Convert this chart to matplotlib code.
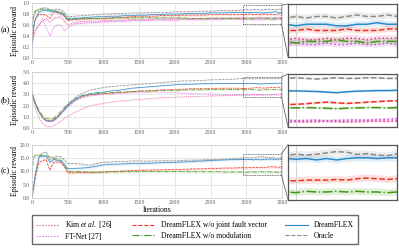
import numpy as np
import matplotlib
matplotlib.use('Agg')
import matplotlib.pyplot as plt
from matplotlib.patches import Rectangle, ConnectionPatch
from matplotlib.lines import Line2D

plt.rcParams['font.family'] = ['Liberation Serif', 'DejaVu Serif']
plt.rcParams['mathtext.fontset'] = 'custom'
plt.rcParams['mathtext.rm'] = 'Liberation Serif'
plt.rcParams['mathtext.it'] = 'Liberation Serif:italic'

# iteration grid the values were read on
iters = [0, 25, 50, 100, 150, 200, 250, 300, 350, 400, 450, 500,
         600, 700, 800, 900, 1000, 1100, 1200, 1300, 1400, 1500, 1600, 1700,
         1800, 1900, 2000, 2100, 2200, 2300, 2400, 2500, 2600, 2700, 2800, 2900,
         2950, 3000, 3050, 3100, 3150, 3200, 3250, 3300, 3350, 3400, 3450, 3500]

# panel (a)
oracle_a = [0.55, 0.75, 0.84, 0.89, 0.91, 0.91, 0.88, 0.88, 0.89, 0.88, 0.84, 0.75,
            0.76, 0.77, 0.78, 0.79, 0.80, 0.80, 0.81, 0.81, 0.82, 0.82, 0.82, 0.83,
            0.83, 0.83, 0.84, 0.84, 0.84, 0.85, 0.85, 0.85, 0.86, 0.86, 0.86, 0.87,
            0.87, 0.88, 0.87, 0.88, 0.88, 0.87, 0.88, 0.89, 0.88, 0.88, 0.89, 0.88]
dreamflex_a = [0.20, 0.55, 0.72, 0.84, 0.86, 0.87, 0.85, 0.85, 0.84, 0.82, 0.78, 0.70,
               0.72, 0.73, 0.74, 0.75, 0.75, 0.76, 0.76, 0.77, 0.77, 0.78, 0.78, 0.79,
               0.79, 0.80, 0.80, 0.80, 0.81, 0.81, 0.81, 0.82, 0.82, 0.82, 0.83, 0.83,
               0.83, 0.82, 0.83, 0.83, 0.83, 0.82, 0.82, 0.83, 0.83, 0.84, 0.83, 0.83]
nojoint_a = [0.30, 0.60, 0.72, 0.80, 0.79, 0.78, 0.72, 0.84, 0.83, 0.80, 0.76, 0.68,
             0.70, 0.71, 0.71, 0.72, 0.72, 0.73, 0.74, 0.74, 0.75, 0.76, 0.76, 0.76,
             0.77, 0.77, 0.77, 0.78, 0.78, 0.78, 0.78, 0.79, 0.79, 0.79, 0.79, 0.79,
             0.79, 0.79, 0.80, 0.79, 0.79, 0.79, 0.80, 0.79, 0.79, 0.79, 0.80, 0.80]
nomod_a = [0.55, 0.80, 0.86, 0.88, 0.89, 0.89, 0.87, 0.86, 0.85, 0.84, 0.80, 0.72,
           0.72, 0.72, 0.72, 0.72, 0.72, 0.72, 0.73, 0.73, 0.73, 0.73, 0.73, 0.73,
           0.73, 0.73, 0.73, 0.73, 0.72, 0.72, 0.72, 0.72, 0.72, 0.72, 0.72, 0.72,
           0.72, 0.71, 0.72, 0.72, 0.72, 0.73, 0.72, 0.72, 0.71, 0.72, 0.72, 0.72]
kim_a = [0.20, 0.40, 0.50, 0.62, 0.68, 0.72, 0.65, 0.72, 0.74, 0.75, 0.68, 0.60,
         0.65, 0.66, 0.67, 0.67, 0.68, 0.68, 0.69, 0.69, 0.70, 0.70, 0.70, 0.71,
         0.71, 0.71, 0.71, 0.72, 0.72, 0.72, 0.72, 0.73, 0.73, 0.73, 0.73, 0.73,
         0.73, 0.74, 0.73, 0.73, 0.74, 0.73, 0.74, 0.74, 0.73, 0.74, 0.74, 0.74]
ftnet_a = [0.20, 0.45, 0.52, 0.60, 0.72, 0.55, 0.40, 0.55, 0.60, 0.60, 0.50, 0.56,
           0.62, 0.63, 0.64, 0.65, 0.66, 0.66, 0.67, 0.67, 0.68, 0.68, 0.68, 0.69,
           0.69, 0.69, 0.69, 0.70, 0.70, 0.70, 0.70, 0.70, 0.70, 0.71, 0.71, 0.71,
           0.70, 0.71, 0.70, 0.70, 0.71, 0.70, 0.70, 0.71, 0.70, 0.70, 0.71, 0.70]

# panel (b)
oracle_b = [3.2, 2.6, 2.1, 1.4, 0.9, 0.65, 0.6, 0.7, 0.95, 1.3, 1.7, 2.1,
            2.7, 3.1, 3.35, 3.5, 3.6, 3.7, 3.75, 3.8, 3.85, 3.9, 3.95, 4.0,
            4.05, 4.1, 4.15, 4.2, 4.2, 4.25, 4.25, 4.3, 4.3, 4.35, 4.35, 4.4,
            4.4, 4.42, 4.4, 4.38, 4.4, 4.42, 4.4, 4.4, 4.42, 4.42, 4.4, 4.4]
dreamflex_b = [3.2, 2.6, 2.1, 1.4, 0.9, 0.65, 0.6, 0.65, 0.9, 1.25, 1.6, 1.95,
               2.5, 2.85, 3.05, 3.15, 3.2, 3.3, 3.35, 3.45, 3.55, 3.6, 3.65, 3.7,
               3.75, 3.8, 3.85, 3.9, 3.9, 3.92, 3.95, 3.95, 3.96, 3.97, 3.98, 3.98,
               3.98, 3.98, 3.97, 3.96, 3.94, 3.92, 3.95, 3.97, 3.98, 3.99, 3.99, 4.0]
nojoint_b = [3.2, 2.6, 2.1, 1.4, 0.95, 0.7, 0.65, 0.75, 1.0, 1.3, 1.65, 2.0,
             2.5, 2.8, 2.95, 3.0, 3.05, 3.1, 3.15, 3.2, 3.25, 3.3, 3.3, 3.35,
             3.4, 3.4, 3.45, 3.45, 3.5, 3.5, 3.5, 3.52, 3.55, 3.55, 3.55, 3.55,
             3.52, 3.53, 3.55, 3.58, 3.6, 3.58, 3.56, 3.58, 3.6, 3.62, 3.64, 3.65]
nomod_b = [3.2, 2.7, 2.2, 1.6, 1.1, 0.85, 0.8, 0.85, 1.1, 1.45, 1.8, 2.15,
           2.6, 2.9, 3.0, 3.05, 3.1, 3.15, 3.2, 3.2, 3.25, 3.3, 3.3, 3.3,
           3.35, 3.35, 3.35, 3.38, 3.4, 3.4, 3.4, 3.42, 3.42, 3.42, 3.42, 3.42,
           3.42, 3.41, 3.42, 3.41, 3.4, 3.38, 3.4, 3.41, 3.42, 3.42, 3.41, 3.42]
kim_b = [3.2, 2.4, 1.7, 0.9, 0.4, 0.15, 0.1, 0.2, 0.4, 0.6, 0.85, 1.05,
         1.4, 1.7, 1.95, 2.1, 2.2, 2.3, 2.4, 2.45, 2.5, 2.55, 2.6, 2.65,
         2.7, 2.72, 2.75, 2.78, 2.8, 2.82, 2.84, 2.86, 2.88, 2.9, 2.92, 2.93,
         2.94, 2.95, 2.94, 2.95, 2.96, 2.95, 2.94, 2.95, 2.96, 2.97, 2.96, 2.97]
ftnet_b = [3.2, 2.6, 2.1, 1.4, 0.9, 0.6, 0.55, 0.6, 0.85, 1.2, 1.55, 1.85,
           2.4, 2.7, 2.85, 2.95, 3.0, 3.05, 3.1, 3.12, 3.15, 3.18, 3.2, 3.2,
           3.2, 3.18, 3.15, 3.12, 3.1, 3.08, 3.05, 3.05, 3.02, 3.0, 3.0, 3.0,
           3.0, 2.98, 2.99, 3.0, 2.98, 2.99, 3.0, 3.01, 3.0, 3.02, 3.03, 3.05]

# panel (c)
oracle_c = [0.0, 5.0, 10.0, 16.0, 17.0, 17.5, 14.5, 15.5, 15.8, 15.5, 14.5, 13.0,
            13.0, 12.8, 12.3, 13.0, 13.5, 13.6, 13.8, 13.8, 14.0, 14.0, 13.9, 14.0,
            14.0, 14.1, 14.0, 14.2, 14.3, 14.3, 14.4, 14.5, 14.6, 14.7, 14.8, 15.0,
            15.1, 15.2, 15.1, 15.2, 15.4, 15.6, 15.5, 15.2, 15.3, 15.1, 15.0, 15.3]
dreamflex_c = [0.0, 4.5, 9.0, 15.5, 15.8, 15.8, 13.5, 14.5, 14.3, 14.0, 13.0, 11.0,
               11.2, 11.3, 11.5, 12.0, 12.5, 12.7, 12.8, 12.9, 13.0, 13.0, 13.1, 13.2,
               13.3, 13.4, 13.5, 13.6, 13.7, 13.9, 14.0, 14.2, 14.3, 14.4, 14.5, 14.6,
               14.6, 14.5, 14.6, 14.4, 14.6, 14.4, 14.6, 14.7, 14.7, 14.6, 14.7, 14.7]
nojoint_c = [0.0, 4.0, 8.0, 13.5, 14.2, 14.5, 10.5, 13.5, 13.6, 13.5, 12.0, 9.5,
             9.5, 9.6, 9.6, 9.7, 9.8, 10.0, 10.1, 10.2, 10.3, 10.5, 10.5, 10.6,
             10.6, 10.7, 10.8, 10.8, 10.9, 11.0, 11.0, 11.2, 11.2, 11.3, 11.3, 11.4,
             11.4, 11.4, 11.5, 11.5, 11.5, 11.6, 11.5, 11.7, 11.8, 11.7, 11.6, 11.7]
nomod_c = [9.5, 15.5, 16.2, 16.2, 16.2, 16.0, 15.5, 15.0, 14.8, 14.5, 12.5, 10.0,
           10.0, 9.9, 9.8, 9.8, 9.8, 9.9, 9.9, 10.0, 10.0, 10.0, 10.0, 10.0,
           10.0, 10.0, 10.0, 10.0, 9.9, 9.9, 9.9, 9.9, 9.9, 9.8, 9.8, 9.8,
           9.8, 9.7, 9.9, 9.8, 9.8, 9.9, 9.8, 9.9, 9.8, 9.8, 9.7, 9.8]

labels = ['Kim $et$ $al.$ [26]', 'FT-Net [27]', 'DreamFLEX w/o joint fault vector',
          'DreamFLEX w/o modulation', 'DreamFLEX', 'Oracle']
colors = ['#e8308a', '#d24ee0', '#ee3322', '#3f9a10', '#2b88cc', '#8c8c8c']
styles = [':', ':', '--', '-.', '-', '--']

panels = [
    dict(tag='(a)', series=[kim_a, ftnet_a, nojoint_a, nomod_a, dreamflex_a, oracle_a],
         ylim=(0, 1.0), yticks=np.arange(0, 1.01, 0.2),
         zoom=(0.62, 0.96), band=0.02),
    dict(tag='(b)', series=[kim_b, ftnet_b, nojoint_b, nomod_b, dreamflex_b, oracle_b],
         ylim=(0, 5.0), yticks=np.arange(0, 5.01, 1.0),
         zoom=(2.77, 4.55), band=0.04),
    dict(tag='(c)', series=[None, None, nojoint_c, nomod_c, dreamflex_c, oracle_c],
         ylim=(0, 20.0), yticks=np.arange(0, 20.01, 5.0),
         zoom=(8.7, 16.6), band=0.5),
]

main_boxes = [(0.080, 0.766, 0.627, 0.222),
              (0.080, 0.484, 0.627, 0.226),
              (0.080, 0.202, 0.627, 0.213)]
inset_boxes = [(0.722, 0.770, 0.274, 0.214),
               (0.722, 0.488, 0.274, 0.214),
               (0.722, 0.195, 0.274, 0.222)]
zoom_x = (2960, 3490)

fig = plt.figure(figsize=(3.99, 2.48), dpi=100)
x = np.array(iters)

for k, p in enumerate(panels):
    ax = fig.add_axes(main_boxes[k])
    axi = fig.add_axes(inset_boxes[k])
    for i, s in enumerate(p['series']):
        if s is None:
            continue
        y = np.array(s)
        ax.plot(x, y, color=colors[i], ls=styles[i], lw=0.5)
        ax.fill_between(x, y - p['band'], y + p['band'], color=colors[i], alpha=0.12, lw=0)
        axi.plot(x, y, color=colors[i], ls=styles[i], lw=1.1)
        axi.fill_between(x, y - p['band'], y + p['band'], color=colors[i], alpha=0.15, lw=0)

    ax.set_xlim(0, 3500)
    ax.set_ylim(*p['ylim'])
    ax.set_xticks(np.arange(0, 3501, 500))
    ax.set_yticks(p['yticks'])
    ax.yaxis.set_major_formatter(matplotlib.ticker.FormatStrFormatter('%.1f'))
    ax.tick_params(labelsize=4, length=0, pad=1.5, colors='#555555')
    ax.grid(True, color='#dddddd', lw=0.5)
    for sp in ax.spines.values():
        sp.set_color('#cccccc')
        sp.set_linewidth(0.5)
    ax.set_ylabel('Episodic reward', fontsize=5.5)
    ax.yaxis.set_label_coords(-0.052, 0.5)
    bx = main_boxes[k]
    fig.text(0.014, bx[1] + bx[3] / 2, p['tag'], fontsize=6, ha='center', va='center')

    axi.set_xlim(*zoom_x)
    axi.set_ylim(*p['zoom'])
    axi.set_xticks(np.arange(3000, 3501, 500))
    axi.set_yticks([])
    axi.tick_params(labelbottom=False, labelleft=False, length=0)
    axi.grid(True, color='#cccccc', lw=0.6)
    for sp in axi.spines.values():
        sp.set_color('#555555')
        sp.set_linewidth(0.9)

    z0, z1 = p['zoom']
    ax.add_patch(Rectangle((zoom_x[0], z0), zoom_x[1] - zoom_x[0], z1 - z0,
                           fill=False, ls=(0, (1, 1)), lw=0.6, ec='#444444', zorder=5))
    for yy, corner in [(z1, (0, 1)), (z0, (0, 0))]:
        con = ConnectionPatch(xyA=(zoom_x[1], yy), coordsA=ax.transData,
                              xyB=corner, coordsB=axi.transAxes,
                              color='#666666', lw=0.6)
        fig.add_artist(con)

ax.set_xlabel('Iterations', fontsize=5.5, labelpad=1)

handles = [Line2D([], [], color=c, ls=st, lw=0.8) for c, st in zip(colors, styles)]
fig.legend(handles, labels, loc='center', bbox_to_anchor=(0.489, 0.073), ncol=3,
           fontsize=5.5, frameon=True, fancybox=False, edgecolor='#444444',
           handlelength=3, columnspacing=2.4, borderpad=0.5, labelspacing=0.3)

fig.savefig('out.png', dpi=100)
